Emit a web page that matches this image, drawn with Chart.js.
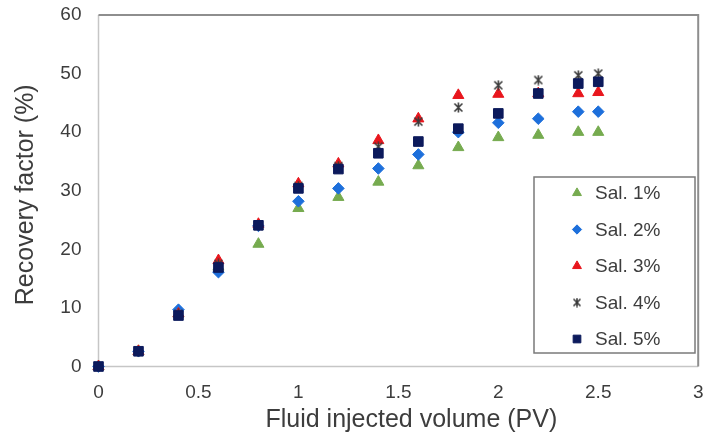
<!DOCTYPE html>
<html>
<head>
<meta charset="utf-8">
<script src="https://cdn.jsdelivr.net/npm/chart.js@4.4.0/dist/chart.umd.min.js"></script>
<style>
  html, body { margin: 0; padding: 0; background: #fff; }
  #wrap { width: 706px; height: 438px; }
</style>
</head>
<body>
<div id="wrap"><canvas id="recoveryChart" width="706" height="438"></canvas></div>
<script>
// Injected pore volumes at each measurement
const injectedPV = [0, 0.2, 0.4, 0.6, 0.8, 1.0, 1.2, 1.4, 1.6, 1.8, 2.0, 2.2, 2.4, 2.5];

// Recovery factor (%) for each brine salinity
const sal1 = [0, 2.6, 9.0, 17.0, 20.9, 27.0, 28.9, 31.5, 34.3, 37.4, 39.1, 39.5, 40.0, 40.0];
const sal2 = [0, 2.6, 9.7, 16.1, 24.0, 28.2, 30.4, 33.8, 36.2, 40.0, 41.6, 42.3, 43.5, 43.5];
const sal3 = [0, 2.6, 9.0, 18.1, 24.3, 31.2, 34.6, 38.6, 42.3, 46.3, 46.5, 46.6, 46.6, 46.8];
const sal4 = [0, 2.6, 9.0, 17.5, 24.0, 30.8, 34.2, 37.5, 41.8, 44.2, 48.0, 48.9, 49.7, 50.0];
const sal5 = [0, 2.6, 8.7, 16.9, 24.1, 30.4, 33.7, 36.4, 38.4, 40.6, 43.2, 46.6, 48.3, 48.6];

const seriesNames = ['Sal. 1%', 'Sal. 2%', 'Sal. 3%', 'Sal. 4%', 'Sal. 5%'];
const xTickLabels = ['0', '0.5', '1', '1.5', '2', '2.5', '3'];
const yTickLabels = ['0', '10', '20', '30', '40', '50', '60'];

const FONT = '"Liberation Sans", Arial, sans-serif';
const TEXT = '#3d3d3d';

// asterisk-style marker: an X crossed by a vertical stroke
function starMarker(size, color) {
  const c = document.createElement('canvas');
  c.width = size;
  c.height = size;
  const g = c.getContext('2d');
  g.strokeStyle = color;
  g.lineWidth = 1.6;
  const lo = 1.5, hi = size - 1.5, mid = size / 2;
  g.beginPath();
  g.moveTo(lo, lo); g.lineTo(hi, hi);
  g.moveTo(hi, lo); g.lineTo(lo, hi);
  g.moveTo(mid, lo - 1); g.lineTo(mid, hi + 1);
  g.stroke();
  return c;
}

function toPoints(ys) {
  return injectedPV.map((x, i) => ({ x: x, y: ys[i] }));
}

const styles = [
  { color: '#76ab4f', pointStyle: 'triangle', radius: 6.4 },
  { color: '#1d6fdb', pointStyle: 'rectRot', radius: 5.8 },
  { color: '#e8161d', pointStyle: 'triangle', radius: 6.4 },
  { color: '#3a3a3a', pointStyle: starMarker(11, '#3a3a3a'), radius: 6 },
  { color: '#0c1a5c', pointStyle: 'rect', radius: 6.8 }
];

const seriesData = [sal1, sal2, sal3, sal4, sal5];

const datasets = seriesData.map((ys, i) => ({
  label: seriesNames[i],
  data: toPoints(ys),
  showLine: false,
  clip: false,
  order: seriesData.length - i,   // later salinities drawn on top
  pointStyle: styles[i].pointStyle,
  pointRadius: styles[i].radius,
  pointHoverRadius: styles[i].radius,
  backgroundColor: styles[i].color,
  borderColor: styles[i].color,
  pointBorderWidth: 1
}));

// frame round the plot area
const framePlugin = {
  id: 'frame',
  beforeDatasetsDraw(chart) {
    const { ctx, chartArea: a } = chart;
    ctx.save();
    ctx.lineWidth = 1.5;
    ctx.strokeStyle = '#c6c6c6';
    ctx.beginPath();
    ctx.moveTo(a.left, a.top);
    ctx.lineTo(a.left, a.bottom);
    ctx.lineTo(a.right, a.bottom);
    ctx.stroke();
    ctx.lineWidth = 2;
    ctx.strokeStyle = '#8e8e8e';
    ctx.beginPath();
    ctx.moveTo(a.left, a.top);
    ctx.lineTo(a.right, a.top);
    ctx.lineTo(a.right, a.bottom);
    ctx.stroke();
    ctx.restore();
  }
};

// axis titles
const axisTitlePlugin = {
  id: 'axisTitles',
  afterDraw(chart) {
    const { ctx, chartArea: a } = chart;
    ctx.save();
    ctx.fillStyle = TEXT;
    ctx.font = '25px ' + FONT;
    ctx.textAlign = 'center';
    ctx.textBaseline = 'middle';
    ctx.fillText('Fluid injected volume (PV)', (a.left + a.right) / 2 + 13, 420);
    ctx.translate(26, (a.top + a.bottom) / 2 + 4);
    ctx.rotate(-Math.PI / 2);
    ctx.fillText('Recovery factor (%)', 0, 0);
    ctx.restore();
  }
};

// boxed legend inside the plot
const boxLegendPlugin = {
  id: 'boxLegend',
  afterDraw(chart) {
    const { ctx } = chart;
    const bx = 534, by = 177, bw = 161, bh = 176;
    ctx.save();
    ctx.fillStyle = '#ffffff';
    ctx.fillRect(bx, by, bw, bh);
    ctx.lineWidth = 1.5;
    ctx.strokeStyle = '#7a7a7a';
    ctx.strokeRect(bx, by, bw, bh);
    ctx.font = '19px ' + FONT;
    ctx.textBaseline = 'middle';
    ctx.textAlign = 'left';
    seriesNames.forEach((name, i) => {
      const y = by + 16 + i * 36.5;
      const st = styles[i];
      ctx.fillStyle = st.color;
      ctx.strokeStyle = st.color;
      ctx.lineWidth = 1;
      let ps = st.pointStyle;
      if (typeof ps !== 'string') ps = starMarker(10, st.color);
      Chart.helpers.drawPoint(ctx, {
        pointStyle: ps,
        rotation: 0,
        radius: st.radius * 0.8,
        borderWidth: 1
      }, 577, y);
      ctx.fillStyle = TEXT;
      ctx.fillText(name, 595, y + 1);
    });
    ctx.restore();
  }
};

new Chart(document.getElementById('recoveryChart'), {
  type: 'scatter',
  data: { datasets: datasets },
  options: {
    responsive: false,
    animation: false,
    layout: { padding: { top: 15, right: 5.5, left: 0, bottom: 0 } },
    plugins: {
      legend: { display: false },
      tooltip: { enabled: false }
    },
    scales: {
      x: {
        type: 'linear',
        min: 0,
        max: 3,
        grid: { display: false, drawTicks: false },
        border: { display: false },
        afterFit: function(scale) {
          scale.height = 71.5;
          scale.paddingLeft = 0;
          scale.paddingRight = 0;
        },
        ticks: {
          stepSize: 0.5,
          autoSkip: false,
          maxRotation: 0,
          padding: 15,
          color: TEXT,
          font: { family: FONT, size: 19 },
          callback: function(value, index) { return xTickLabels[index]; }
        }
      },
      y: {
        type: 'linear',
        min: 0,
        max: 60,
        grid: { display: false, drawTicks: false },
        border: { display: false },
        afterFit: function(scale) {
          scale.width = 98.5;
          scale.paddingTop = 0;
          scale.paddingBottom = 0;
        },
        ticks: {
          stepSize: 10,
          padding: 17,
          color: TEXT,
          font: { family: FONT, size: 19 },
          callback: function(value, index) { return yTickLabels[index]; }
        }
      }
    }
  },
  plugins: [framePlugin, axisTitlePlugin, boxLegendPlugin]
});
</script>
</body>
</html>
